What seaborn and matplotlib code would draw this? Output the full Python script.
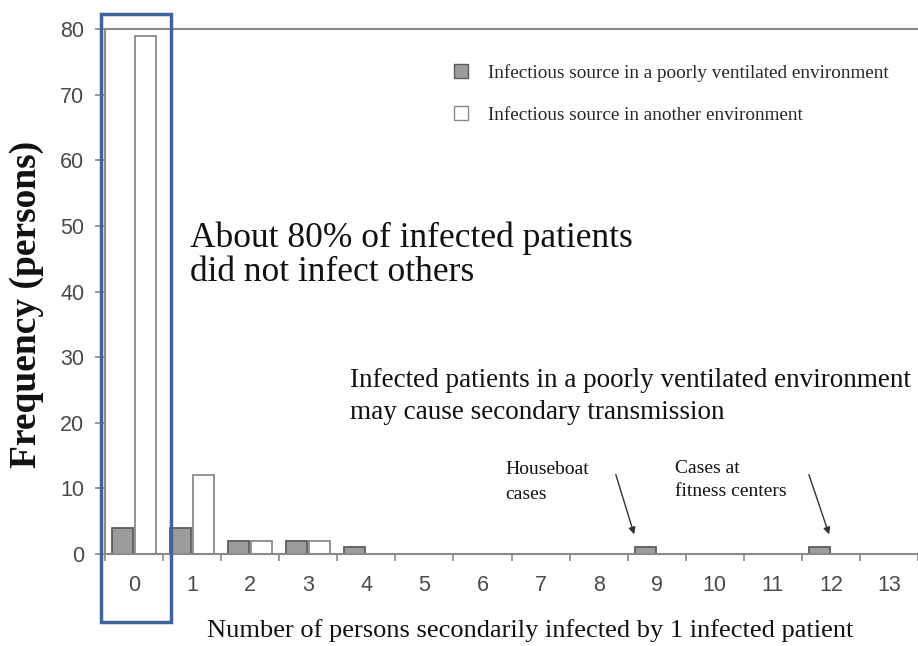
import pandas as pd
import numpy as np
import matplotlib.pyplot as plt
import matplotlib.patches as mpatches
import seaborn as sns

# number of persons secondarily infected by one patient
secondary = list(range(14))
poorly_ventilated = [4, 4, 2, 2, 1, 0, 0, 0, 0, 1, 0, 0, 1, 0]
other_environment = [79, 12, 2, 2, 0, 0, 0, 0, 0, 0, 0, 0, 0, 0]
series_names = ['Infectious source in a poorly ventilated environment',
                'Infectious source in another environment']
y_ticks = [0, 10, 20, 30, 40, 50, 60, 70, 80]

df = pd.DataFrame({
    'secondary': secondary * 2,
    'count': poorly_ventilated + other_environment,
    'source': [series_names[0]] * 14 + [series_names[1]] * 14,
})

sns.set_style('white')
plt.rcParams['font.family'] = ['Liberation Sans', 'DejaVu Sans']
serif = ['Liberation Serif', 'DejaVu Serif']

W, H = 918, 646
fig = plt.figure(figsize=(W / 100, H / 100), dpi=100)
ax = fig.add_axes([105 / W, 92 / H, 813 / W, 525 / H])

sns.barplot(data=df, x='secondary', y='count', hue='source', hue_order=series_names,
            palette=['#9c9c9c', 'white'], width=0.8, gap=0.1, ax=ax, legend=True)

edges = {series_names[0]: '#5c5c5c', series_names[1]: '#8a8a8a'}
for cont, name in zip(ax.containers, series_names):
    for bar in cont:
        bar.set_edgecolor(edges[name])
        bar.set_linewidth(1.3)

ax.set_xlim(-0.5, 13.28)
ax.set_ylim(0, 80)
ax.set_yticks(y_ticks)
ax.set_xticks(secondary)
ax.set_xticklabels([str(s) for s in secondary])
ax.set_xticks(np.arange(-0.5, 14, 1), minor=True)
ax.tick_params(axis='x', which='major', length=0, pad=15, labelsize=15.5, labelcolor='#4a4a4a')
ax.tick_params(axis='x', which='minor', direction='out', length=5, color='#888888', width=1.2)
ax.tick_params(axis='y', direction='out', length=7, color='#888888', width=1.2,
               labelsize=15.5, labelcolor='#4a4a4a', pad=8)
ax.tick_params(bottom=True, left=True, which='both')

for side in ['left', 'bottom', 'top']:
    ax.spines[side].set_color('#8a8a8a')
    ax.spines[side].set_linewidth(1.5)
ax.spines['right'].set_visible(False)

ax.set_xlabel('')
ax.set_ylabel('')
fig.text(530 / W, 1 - 631 / H, 'Number of persons secondarily infected by 1 infected patient',
         family=serif, fontsize=19, ha='center', va='center', color='#111111')
fig.text(27 / W, 1 - 304 / H, 'Frequency (persons)', family=serif, fontsize=27,
         fontweight='bold', rotation=90, ha='center', va='center', color='#111111')

handles, labels = ax.get_legend_handles_labels()
leg = ax.legend(handles, labels, loc='center left', bbox_to_anchor=(454 / W, 1 - 94 / H),
                bbox_transform=fig.transFigure, frameon=False, prop={'family': serif, 'size': 13.8},
                handlelength=0.75, handleheight=0.75, handletextpad=1.05, labelspacing=1.25,
                borderpad=0, borderaxespad=0)
for h, name in zip(leg.legend_handles, series_names):
    h.set_edgecolor(edges[name])

# va='baseline' pins the baseline of the last line
fig.text(190 / W, 1 - 281 / H, 'About 80% of infected patients\ndid not infect others',
         family=serif, fontsize=25.5, va='baseline', linespacing=1.05, color='#111111')
fig.text(350 / W, 1 - 419 / H,
         'Infected patients in a poorly ventilated environment\nmay cause secondary transmission',
         family=serif, fontsize=19.5, va='baseline', linespacing=1.35, color='#111111')
fig.text(505 / W, 1 - 482 / H, 'Houseboat\ncases', family=serif, fontsize=14,
         va='center', linespacing=1.6, color='#111111')
fig.text(675 / W, 1 - 480 / H, 'Cases at\nfitness centers', family=serif, fontsize=14,
         va='center', linespacing=1.45, color='#111111')

for x0, x1 in [(615, 635), (808, 830)]:
    fig.add_artist(mpatches.FancyArrowPatch((x0 / W, 1 - 472 / H), (x1 / W, 1 - 537 / H),
                                            transform=fig.transFigure, arrowstyle='-|>',
                                            mutation_scale=10, color='#333333', lw=1))

fig.add_artist(mpatches.Rectangle((101 / W, 1 - 622 / H), 70 / W, 608 / H,
                                  transform=fig.transFigure, fill=False,
                                  edgecolor='#3f64a0', linewidth=2.5))

fig.savefig('out.png', dpi=100)
